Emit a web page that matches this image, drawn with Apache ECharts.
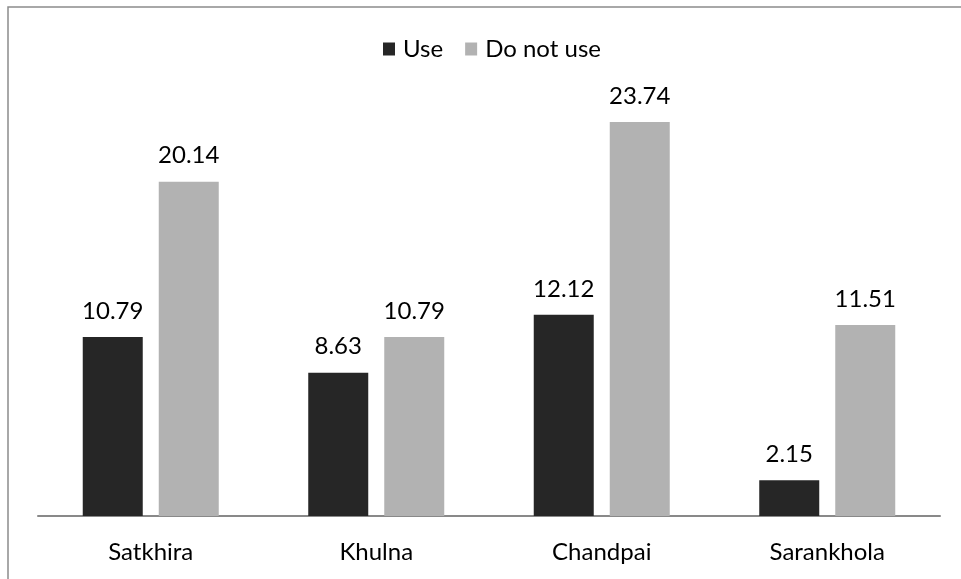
<!DOCTYPE html>
<html>
<head>
<meta charset="utf-8">
<script src="https://cdn.jsdelivr.net/npm/echarts@6/dist/echarts.min.js"></script>
<style>
  html, body { margin: 0; padding: 0; background: #fff; }
  #chart { width: 961px; height: 579px; }
</style>
</head>
<body>
<div id="chart"></div>
<script>
const categories = ['Satkhira', 'Khulna', 'Chandpai', 'Sarankhola'];
const useValues = [10.79, 8.63, 12.12, 2.15];
const notUseValues = [20.14, 10.79, 23.74, 11.51];
const seriesNames = ['Use', 'Do not use'];

const FONT = 'Lato';
const FONT_SIZE = 24;
const chart = echarts.init(document.getElementById('chart'), null, { renderer: 'canvas' });

const labelStyle = {
  show: true,
  position: 'top',
  distance: 14,
  color: '#000',
  fontFamily: FONT,
  fontSize: FONT_SIZE,
  formatter: p => p.value.toFixed(2)
};

chart.setOption({
  animation: false,
  backgroundColor: '#fff',
  graphic: [{
    type: 'rect',
    shape: { x: 8, y: 7, width: 1200, height: 1200 },
    style: { fill: 'none', stroke: '#8c8c8c', lineWidth: 1.5 },
    silent: true
  }],
  legend: {
    top: 32,
    left: 378,
    itemWidth: 12,
    itemHeight: 13,
    itemGap: 22,
    icon: 'rect',
    textStyle: { fontFamily: FONT, fontSize: FONT_SIZE, color: '#000', padding: [0, 0, 0, 3] },
    data: seriesNames
  },
  grid: { left: 38, right: 21, top: 101, bottom: 63 },
  xAxis: {
    type: 'category',
    data: categories,
    axisLine: { show: true, lineStyle: { color: '#898989', width: 2 } },
    axisTick: { show: false },
    axisLabel: { margin: 24, color: '#000', fontFamily: FONT, fontSize: FONT_SIZE }
  },
  yAxis: {
    type: 'value',
    min: 0,
    max: 25,
    show: false,
    splitLine: { show: false }
  },
  series: [
    {
      name: seriesNames[0],
      type: 'bar',
      data: useValues,
      barWidth: 60,
      barGap: '26.67%',
      itemStyle: { color: '#262626' },
      label: labelStyle
    },
    {
      name: seriesNames[1],
      type: 'bar',
      data: notUseValues,
      barWidth: 60,
      barGap: '26.67%',
      itemStyle: { color: '#b2b2b2' },
      label: labelStyle
    }
  ]
});
</script>
</body>
</html>
